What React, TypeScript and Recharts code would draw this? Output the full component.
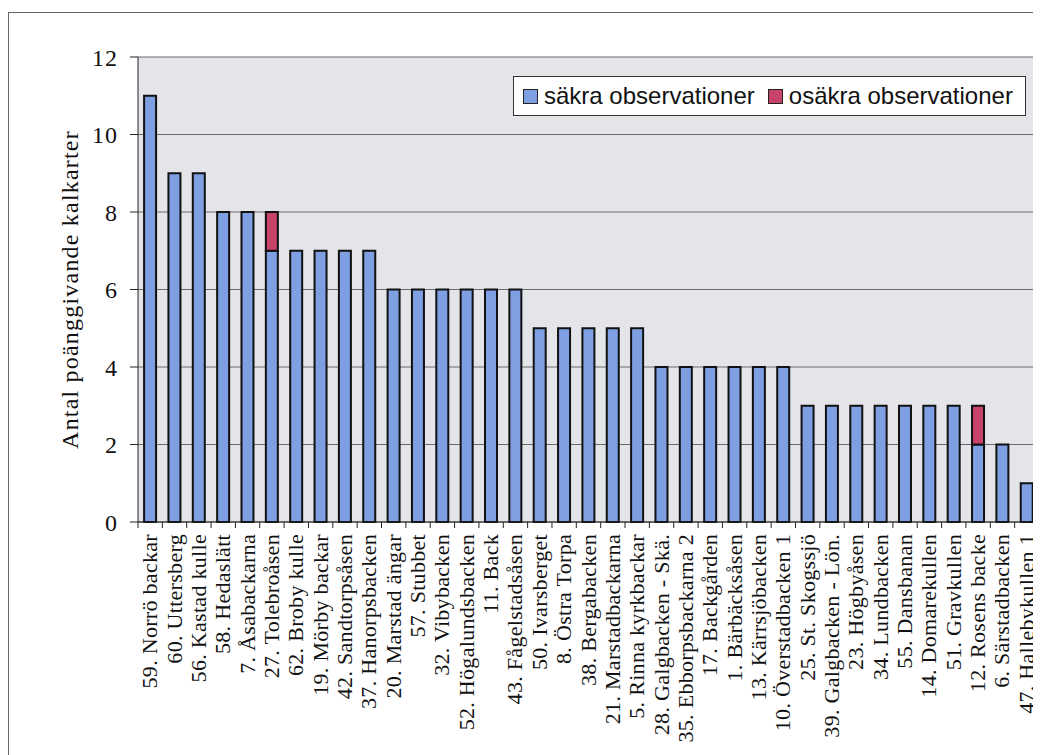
import React from "react";
import { BarChart, Bar, XAxis, YAxis, CartesianGrid } from "recharts";

const platser = [
  "59. Norrö backar", "60. Uttersberg", "56. Kastad kulle", "58. Hedaslätt", "7. Åsabackarna",
  "27. Tolebroåsen", "62. Broby kulle", "19. Mörby backar", "42. Sandtorpsåsen", "37. Hanorpsbacken",
  "20. Marstad ängar", "57. Stubbet", "32. Vibybacken", "52. Högalundsbacken", "11. Back",
  "43. Fågelstadsåsen", "50. Ivarsberget", "8. Östra Torpa", "38. Bergabacken", "21. Marstadbackarna",
  "5. Rinna kyrkbackar", "28. Galgbacken - Skä.", "35. Ebborpsbackarna 2", "17. Backgården", "1. Bärbäcksåsen",
  "13. Kärrsjöbacken", "10. Överstadbacken 1", "25. St. Skogssjö", "39. Galgbacken - Lön.", "23. Högbyåsen",
  "34. Lundbacken", "55. Dansbanan", "14. Domarekullen", "51. Gravkullen", "12. Rosens backe",
  "6. Särstadbacken", "47. Hallebykullen 1",
];

const sakra = [11, 9, 9, 8, 8, 7, 7, 7, 7, 7, 6, 6, 6, 6, 6, 6, 5, 5, 5, 5, 5, 4, 4, 4, 4, 4, 4, 3, 3, 3, 3, 3, 3, 3, 2, 2, 1];
const osakra = [0, 0, 0, 0, 0, 1, 0, 0, 0, 0, 0, 0, 0, 0, 0, 0, 0, 0, 0, 0, 0, 0, 0, 0, 0, 0, 0, 0, 0, 0, 0, 0, 0, 0, 1, 0, 0];

const yTicks = [0, 2, 4, 6, 8, 10, 12];

const data = platser.map((namn, i) => ({ namn, sakra: sakra[i], osakra: osakra[i] }));

const BLUE = "#7f9fe3";
const RED = "#c8436a";
const SERIF = "'Liberation Serif', 'DejaVu Serif', serif";

function XTick(props: any) {
  const { x, y, payload } = props;
  const half = payload.offset ?? 12.15;
  return (
    <g>
      <line x1={x - half} y1={y - 8} x2={x - half} y2={y - 2} stroke="#222" />
      <text
        transform={`translate(${x},${y + 4}) rotate(-90)`}
        textAnchor="end"
        dy={7}
        fontFamily={SERIF}
        fontSize={22}
        letterSpacing={0.3}
        fill="#111"
      >
        {payload.value}
      </text>
    </g>
  );
}

function LegendBox() {
  const item = (color: string, text: string) => (
    <span style={{ display: "inline-flex", alignItems: "center", marginRight: 13 }}>
      <span style={{ width: 13, height: 13, background: color, border: "1.5px solid #222", marginRight: 6 }} />
      {text}
    </span>
  );
  return (
    <div
      style={{
        position: "absolute",
        top: 63,
        left: 504,
        background: "#fff",
        border: "1px solid #333",
        height: 40,
        width: 513,
        display: "flex",
        alignItems: "center",
        paddingLeft: 9,
        boxSizing: "border-box",
        fontFamily: "'Liberation Sans', Arial, sans-serif",
        fontSize: 24,
        color: "#111",
        whiteSpace: "nowrap",
      }}
    >
      {item(BLUE, "säkra observationer")}
      {item(RED, "osäkra observationer")}
    </div>
  );
}

export default function App() {
  return (
    <div style={{ position: "relative", marginTop: 4, width: 1040, height: 760, border: "1px solid #666", boxSizing: "border-box", background: "#fff" }}>
      <style>{"body{overflow:hidden}"}</style>
      <BarChart
        width={1032}
        height={740}
        data={data}
        margin={{ top: 44, right: 2, left: 0, bottom: 0 }}
        barCategoryGap="25%"
      >
        <CartesianGrid vertical={false} stroke="#6a6a6a" fill="#e3e5e9" />
        <XAxis
          dataKey="namn"
          interval={0}
          height={231}
          tick={<XTick />}
          tickLine={false}
          axisLine={{ stroke: "#222" }}
        />
        <YAxis
          width={129}
          domain={[0, 12]}
          ticks={yTicks}
          tick={{ fontFamily: SERIF, fontSize: 24, fill: "#111", letterSpacing: 1 }}
          tickLine={{ stroke: "#222" }}
          tickSize={8}
          tickMargin={12}
          axisLine={{ stroke: "#222" }}
          label={{
            value: "Antal poänggivande kalkarter",
            angle: -90,
            position: "insideLeft",
            offset: 60,
            style: { fontFamily: SERIF, fontSize: 24, fill: "#111", textAnchor: "middle", letterSpacing: 1.2 },
          }}
        />
        <Bar dataKey="sakra" stackId="a" fill={BLUE} stroke="#111" strokeWidth={2} isAnimationActive={false} />
        <Bar dataKey="osakra" stackId="a" fill={RED} stroke="#111" strokeWidth={2} isAnimationActive={false} />
      </BarChart>
      <LegendBox />
    </div>
  );
}
